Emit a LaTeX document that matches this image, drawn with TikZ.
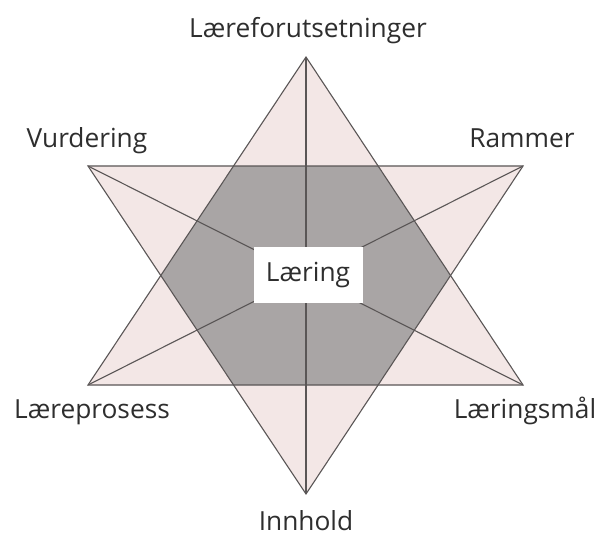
\documentclass[tikz,border=0pt]{standalone}
\usepackage{fontspec}
\setmainfont{Open Sans}
\definecolor{pinkfill}{HTML}{F3E7E6}
\definecolor{hexgray}{HTML}{A9A5A5}
\definecolor{edge}{HTML}{5A5656}
\definecolor{txt}{HTML}{2E2E2E}
\begin{document}
\begin{tikzpicture}[x=1pt,y=-1pt,
  lbl/.style={anchor=base, text=txt, font=\fontsize{26.3}{30}\selectfont, inner sep=0pt},
  ln/.style={draw=edge, line width=1.1pt, line join=miter},
  centerbox/.style={fill=white, minimum width=109pt, minimum height=56pt, inner sep=0pt, text=txt, font=\fontsize{26.3}{30}\selectfont}]
\useasboundingbox[fill=white] (0,0) rectangle (598,535);
\coordinate (T) at (306,57);
\coordinate (UL) at (88,166);
\coordinate (UR) at (523,166);
\coordinate (LL) at (88,385);
\coordinate (LR) at (523,385);
\coordinate (B) at (306,494);
\coordinate (C) at (308,275);
% triangles
\fill[pinkfill] (T) -- (LL) -- (LR) -- cycle;
\fill[pinkfill] (UL) -- (UR) -- (B) -- cycle;
% inner hexagon
\coordinate (H1) at (intersection of T--LL and UL--UR);
\coordinate (H2) at (intersection of T--LR and UL--UR);
\coordinate (H3) at (intersection of T--LR and UR--B);
\coordinate (H4) at (intersection of LL--LR and UR--B);
\coordinate (H5) at (intersection of LL--LR and UL--B);
\coordinate (H6) at (intersection of T--LL and UL--B);
\fill[hexgray] (H1) -- (H2) -- (H3) -- (H4) -- (H5) -- (H6) -- cycle;
% spokes
\draw[ln] (T) -- (B);
\draw[ln] (UL) -- (LR);
\draw[ln] (UR) -- (LL);
% triangle outlines
\draw[ln] (T) -- (LL) -- (LR) -- cycle;
\draw[ln] (UL) -- (UR) -- (B) -- cycle;
% centre box
\node[centerbox] (laering) at (C) {Læring};
% labels
\node[lbl] (lf) at (308,38) {Læreforutsetninger};
\node[lbl] (vu) at (87,148) {Vurdering};
\node[lbl] (ra) at (522,148) {Rammer};
\node[lbl] (lp) at (92,418) {Læreprosess};
\node[lbl] (lm) at (525,418) {Læringsmål};
\node[lbl] (in) at (306,530) {Innhold};
\end{tikzpicture}
\end{document}
